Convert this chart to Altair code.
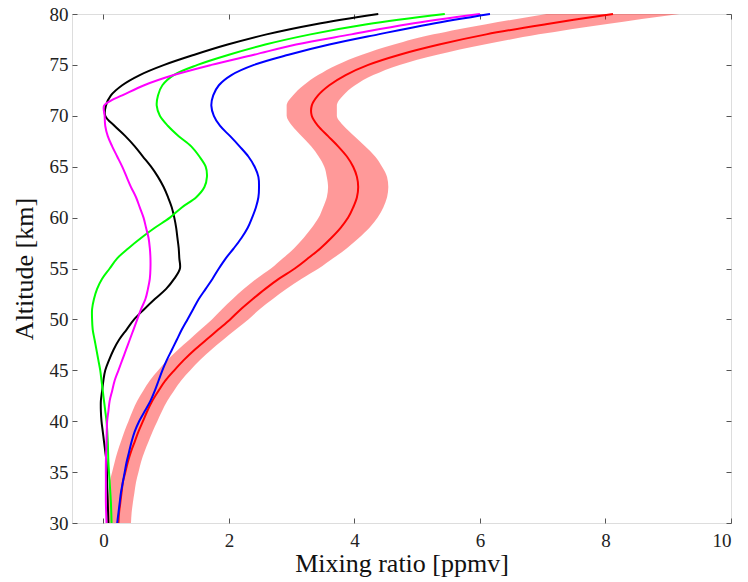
import altair as alt
import pandas as pd

# ---- data ----
red_alt = [80, 79, 78, 77, 76, 75, 74, 73, 72, 71, 70, 69, 68, 67, 66, 65, 64, 63, 62, 61, 60,
           59, 58, 57, 56, 55, 54, 53, 52, 51, 50, 49, 48, 47, 46, 45, 44, 43, 42, 41, 40, 39, 38, 37, 36,
           35, 34, 33, 32, 31, 30]
red_val = [8.12, 7.05, 6.1, 5.35, 4.72, 4.22, 3.86, 3.6, 3.42, 3.32, 3.32, 3.42, 3.58, 3.74, 3.88, 3.98,
           4.04, 4.06, 4.04, 3.98, 3.9, 3.78, 3.63, 3.46, 3.26, 3.05, 2.8, 2.58, 2.38, 2.19, 2.02, 1.83, 1.64,
           1.45, 1.28, 1.13, 0.99, 0.88, 0.78, 0.7, 0.63, 0.56, 0.5, 0.44, 0.39, 0.35, 0.31, 0.29, 0.27, 0.25, 0.24]
red_err = [1.06, 0.95, 0.84, 0.72, 0.6, 0.5, 0.44, 0.41, 0.4, 0.4, 0.4, 0.41, 0.42, 0.43, 0.45, 0.46,
           0.48, 0.48, 0.48, 0.48, 0.47, 0.46, 0.44, 0.42, 0.4, 0.38, 0.36, 0.34, 0.32, 0.3, 0.29, 0.28, 0.27,
           0.265, 0.26, 0.255, 0.25, 0.245, 0.24, 0.235, 0.23, 0.225, 0.22, 0.215, 0.21, 0.21, 0.21, 0.205,
           0.2, 0.2, 0.2]

blue_alt = [80, 79, 78, 77, 76, 75, 74, 73, 72, 71, 70, 69, 68, 67, 66, 65, 64, 63,
            62, 61, 60, 59, 58, 57, 56, 55, 54, 53, 52, 51, 50, 49, 48, 47, 46, 45, 44, 43, 42, 41, 40, 39,
            38, 37, 36, 35, 34, 33, 32, 31, 30]
blue_val = [6.16, 5.2, 4.38, 3.6, 2.95, 2.4, 2.04, 1.84, 1.75, 1.72, 1.76, 1.86, 2.02,
            2.17, 2.31, 2.41, 2.47, 2.48, 2.47, 2.43, 2.37, 2.3, 2.2, 2.08, 1.95, 1.84, 1.74, 1.63, 1.52, 1.43,
            1.34, 1.25, 1.17, 1.09, 1.01, 0.94, 0.88, 0.82, 0.75, 0.66, 0.57, 0.5, 0.45, 0.41, 0.37, 0.34,
            0.31, 0.28, 0.26, 0.24, 0.22]

green_alt = [80, 79, 78, 77, 76, 75, 74, 73, 72, 71, 70, 69, 68, 67, 66, 65, 64,
             63, 62, 61, 60, 59, 58, 57, 56, 55, 54, 53, 52, 51, 50, 49, 48, 47, 46, 45, 44, 43, 42, 41, 40,
             38, 36, 34, 32, 30]
green_val = [5.44, 4.2, 3.3, 2.58, 2.0, 1.5, 1.12, 0.94, 0.87, 0.85, 0.9, 1.03,
             1.2, 1.4, 1.53, 1.63, 1.65, 1.61, 1.48, 1.25, 1.06, 0.82, 0.6, 0.4, 0.22, 0.1, -0.02, -0.1, -0.15,
             -0.18, -0.18, -0.17, -0.14, -0.11, -0.08, -0.05, -0.03, -0.01, 0.01, 0.03, 0.05, 0.07, 0.08,
             0.1, 0.12, 0.13]

magenta_alt = [80, 79, 78, 77, 76, 75, 74, 73, 72, 71.5, 71, 70, 69, 68, 67, 66, 65, 64,
               63, 62, 61, 60, 59, 58, 57, 56, 55, 54, 53, 52, 51, 50, 49, 48, 47, 46, 45, 44, 43, 42, 41,
               40, 38, 36, 34, 32, 30]
magenta_val = [6.0, 4.85, 3.95, 3.07, 2.4, 1.72, 1.12, 0.65, 0.3, 0.12, 0.01, 0.02, 0.03, 0.07,
               0.14, 0.22, 0.3, 0.37, 0.44, 0.52, 0.58, 0.64, 0.68, 0.72, 0.74, 0.75, 0.75, 0.74, 0.71, 0.67,
               0.6, 0.54, 0.48, 0.42, 0.36, 0.3, 0.24, 0.18, 0.14, 0.1, 0.08, 0.06, 0.05, 0.04, 0.04, 0.04, 0.05]

black_alt = [80, 79, 78, 77, 76, 75, 74, 73, 72, 71, 70, 69, 68, 67,
             66, 65, 64, 63, 62, 61, 60, 59, 58, 57, 56, 55, 54, 53, 52, 51, 50, 49, 48, 47, 46, 45, 44,
             43, 42, 41, 40, 39, 38, 37, 36, 34, 32, 30]
black_val = [4.38, 3.38, 2.6, 1.98, 1.45, 0.97, 0.58, 0.3, 0.12, 0.04, 0.03, 0.18, 0.35, 0.5,
             0.63, 0.76, 0.87, 0.96, 1.03, 1.09, 1.13, 1.16, 1.18, 1.2, 1.21, 1.22, 1.13,
             1.0, 0.82, 0.65, 0.49, 0.37, 0.25, 0.16, 0.09, 0.03, 0.0, -0.02, -0.04, -0.04, -0.03, -0.01,
             0.01, 0.03, 0.05, 0.06, 0.07, 0.08]

series_names = ["black", "green", "magenta", "blue"]
series_colors = ["#000000", "#00ff00", "#ff00ff", "#0000ff"]
x_ticks = [0, 2, 4, 6, 8, 10]
y_ticks = [30, 35, 40, 45, 50, 55, 60, 65, 70, 75, 80]

# ---- tables ----
band_df = pd.DataFrame({
    "alt": red_alt,
    "val": red_val,
    "lo": [v - e for v, e in zip(red_val, red_err)],
    "hi": [v + e for v, e in zip(red_val, red_err)],
})
frames = []
for name, a, v in [("black", black_alt, black_val), ("green", green_alt, green_val),
                   ("magenta", magenta_alt, magenta_val), ("blue", blue_alt, blue_val)]:
    frames.append(pd.DataFrame({"alt": a, "val": v, "series": name}))
lines_df = pd.concat(frames, ignore_index=True)

W, H = 659, 509
FONT = "Liberation Serif"
xs = alt.Scale(domain=[-0.5, 10], nice=False, zero=False)
ys = alt.Scale(domain=[30, 80], nice=False, zero=False)


def tick_axis(orient, offset, values):
    return alt.Axis(orient=orient, offset=offset, values=values, labels=False, domain=False,
                    ticks=True, tickSize=5, tickColor="#555555", tickWidth=1, grid=False, title=None)


band = alt.Chart(band_df).mark_area(
    orient="horizontal", interpolate="monotone", color="#ff0000", opacity=0.4
).encode(
    y=alt.Y("alt:Q", scale=ys, axis=alt.Axis(
        title="Altitude [km]", values=y_ticks, ticks=False, domain=False, grid=False,
        labelFont=FONT, labelFontSize=19, labelColor="#222222", labelPadding=4,
        titleFont=FONT, titleFontSize=26, titleFontWeight="normal", titleColor="#111111",
        titlePadding=12)),
    x=alt.X("lo:Q", scale=xs, axis=alt.Axis(
        title="Mixing ratio [ppmv]", values=x_ticks, ticks=False, domain=False, grid=False,
        labelFont=FONT, labelFontSize=19, labelColor="#222222", labelPadding=8,
        titleFont=FONT, titleFontSize=26, titleFontWeight="normal", titleColor="#111111",
        titlePadding=0)),
    x2="hi:Q",
)

red_line = alt.Chart(band_df).mark_line(
    interpolate="catmull-rom", color="#ff0000", strokeWidth=2
).encode(
    x=alt.X("val:Q", scale=xs, axis=tick_axis("top", -H, x_ticks)),
    y=alt.Y("alt:Q", scale=ys, axis=tick_axis("right", -W, y_ticks)),
    order=alt.Order("alt:Q"),
)

lines = alt.Chart(lines_df).mark_line(
    interpolate="catmull-rom", strokeWidth=2
).encode(
    x=alt.X("val:Q", scale=xs, axis=tick_axis("bottom", -H, x_ticks)),
    y=alt.Y("alt:Q", scale=ys, axis=tick_axis("left", -W, y_ticks)),
    color=alt.Color("series:N", scale=alt.Scale(domain=series_names, range=series_colors), legend=None),
    detail="series:N",
    order=alt.Order("alt:Q"),
)

chart = alt.layer(band, red_line, lines).resolve_axis(
    x="independent", y="independent"
).properties(
    width=W, height=H,
    autosize=alt.AutoSizeParams(type="none"),
    padding={"left": 72, "top": 14, "right": 17, "bottom": 59},
).configure_view(
    stroke="#444444", strokeWidth=1.2
).configure(background="white")

chart.save("out.html", embed_options={"renderer": "svg", "actions": False})
